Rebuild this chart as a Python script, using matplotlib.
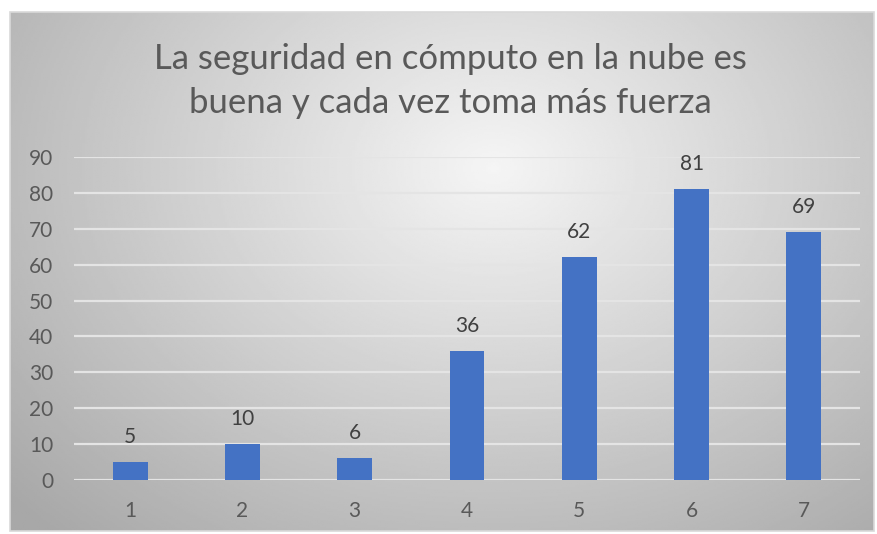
import numpy as np
import matplotlib
matplotlib.use("Agg")
import matplotlib.pyplot as plt
from matplotlib.patches import Rectangle

categories = ["1", "2", "3", "4", "5", "6", "7"]
values = [5, 10, 6, 36, 62, 81, 69]
y_ticks = [0, 10, 20, 30, 40, 50, 60, 70, 80, 90]
title = "La seguridad en cómputo en la nube es\nbuena y cada vez toma más fuerza"

plt.rcParams['font.family'] = ['Lato', 'DejaVu Sans']
text_color = '#595959'
bar_color = '#4472C4'

W, H = 878, 534
fig = plt.figure(figsize=(W / 100, H / 100), dpi=100)

# chart frame with radial gradient, like an Excel chart area
fx0, fy0, fx1, fy1 = 10, 12, 874, 531
bg = fig.add_axes([fx0 / W, 1 - fy1 / H, (fx1 - fx0) / W, (fy1 - fy0) / H], zorder=0)
gx, gy = np.meshgrid(np.linspace(0, 1, 400), np.linspace(0, 1, 300))
r = np.sqrt(((gx - 0.56) / 0.75) ** 2 + ((gy - 0.30) / 0.95) ** 2)
shade = np.clip(0.96 - 0.30 * r, 0.66, 0.96)
bg.imshow(shade, cmap='gray', vmin=0, vmax=1, extent=[0, 1, 1, 0], aspect='auto')
bg.set_xlim(0, 1)
bg.set_ylim(1, 0)
bg.axis('off')
fig.patches.append(Rectangle((fx0 / W, 1 - fy1 / H), (fx1 - fx0) / W, (fy1 - fy0) / H,
                             transform=fig.transFigure, fill=False,
                             edgecolor='#d9d9d9', linewidth=1.2, zorder=5))

ax = fig.add_axes([74 / W, 1 - 480 / H, (860 - 74) / W, (480 - 157) / H], zorder=1)
ax.patch.set_alpha(0)
x = np.arange(len(categories))
bars = ax.bar(x, values, width=0.31, color=bar_color, zorder=3)
ax.set_xlim(-0.5, len(categories) - 0.5)
ax.set_ylim(0, 90)
ax.set_yticks(y_ticks)
ax.set_xticks(x)
ax.set_xticklabels(categories)
ax.yaxis.grid(True, color='#e4e4e4', linewidth=1.6, zorder=0)
ax.set_axisbelow(True)
for s in ax.spines.values():
    s.set_visible(False)
ax.tick_params(axis='both', length=0, labelsize=15, labelcolor=text_color)
ax.tick_params(axis='x', pad=15)
ax.tick_params(axis='y', pad=15)

for b, v in zip(bars, values):
    ax.annotate(str(v), (b.get_x() + b.get_width() / 2, v), xytext=(0, 11),
                textcoords='offset points', ha='center', va='bottom',
                fontsize=15, color='#404040')

fig.text(450 / W, 1 - 81 / H, title, ha='center', va='center', fontsize=25,
         color=text_color, linespacing=1.45)

fig.savefig('out.png', dpi=100, facecolor='white')
